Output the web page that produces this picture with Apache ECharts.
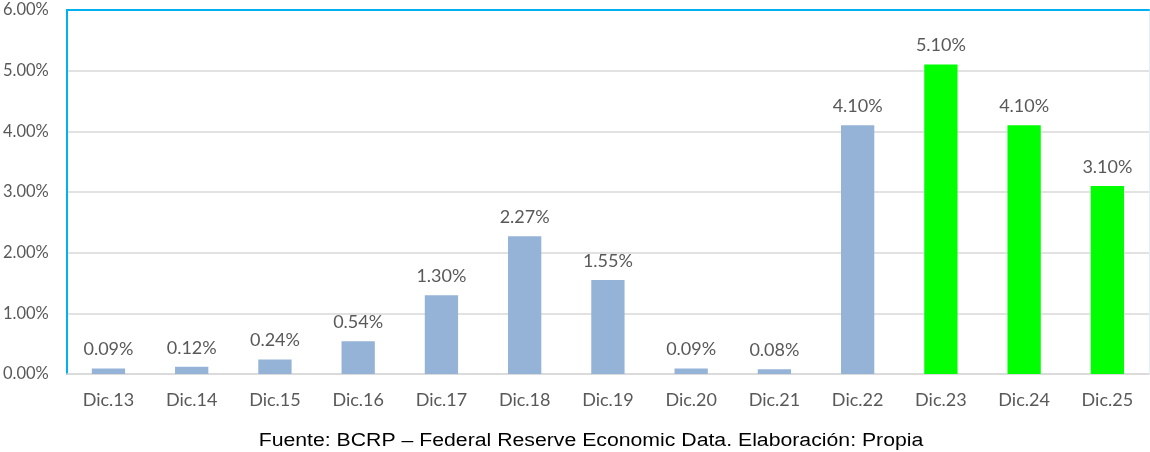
<!DOCTYPE html>
<html>
<head>
<meta charset="utf-8">
<script src="https://cdn.jsdelivr.net/npm/echarts@6/dist/echarts.min.js"></script>
<style>
html,body{margin:0;padding:0;background:#fff;}
#chart{width:1150px;height:452px;}
</style>
</head>
<body>
<div id="chart"></div>
<script>
// Tasa de referencia anual, diciembre de cada año
const categories = ['Dic.13','Dic.14','Dic.15','Dic.16','Dic.17','Dic.18','Dic.19','Dic.20','Dic.21','Dic.22','Dic.23','Dic.24','Dic.25'];
const values = [0.09, 0.12, 0.24, 0.54, 1.30, 2.27, 1.55, 0.09, 0.08, 4.10, 5.10, 4.10, 3.10];
// Los tres últimos años se resaltan en verde
const highlighted = ['Dic.23','Dic.24','Dic.25'];
const sourceNote = 'Fuente: BCRP – Federal Reserve Economic Data. Elaboración: Propia';

const labelFont = 'Lato, "Open Sans", sans-serif';
const chart = echarts.init(document.getElementById('chart'));

chart.setOption({
  animation: false,
  grid: { left: 65, right: 1, top: 10, bottom: 78, containLabel: false },
  xAxis: [
    {
      type: 'category',
      data: categories,
      axisLine: { show: true, onZero: false, lineStyle: { color: '#D9D9D9', width: 1.5 } },
      axisTick: { show: false },
      axisLabel: { color: '#595959', fontSize: 18, fontFamily: labelFont, margin: 17 }
    },
    {
      type: 'category',
      position: 'top',
      data: categories,
      axisLine: { show: true, onZero: false, lineStyle: { color: '#00B0F0', width: 2 } },
      axisTick: { show: false },
      axisLabel: { show: false }
    }
  ],
  yAxis: [
    {
      type: 'value',
      min: 0,
      max: 6,
      interval: 1,
      axisLine: { show: true, onZero: false, lineStyle: { color: '#00B0F0', width: 2 } },
      axisTick: { show: false },
      splitLine: { lineStyle: { color: '#D9D9D9', width: 1.5 } },
      axisLabel: {
        color: '#595959', fontSize: 16.5, fontFamily: labelFont, margin: 18,
        formatter: v => v.toFixed(2) + '%'
      }
    },
    {
      type: 'value',
      position: 'right',
      min: 0,
      max: 6,
      interval: 1,
      axisLine: { show: true, onZero: false, lineStyle: { color: '#DDEFF8', width: 1 } },
      axisTick: { show: false },
      splitLine: { show: false },
      axisLabel: { show: false }
    }
  ],
  series: [{
    type: 'bar',
    barWidth: '40%',
    data: values.map((v, i) => ({
      value: v,
      itemStyle: { color: highlighted.includes(categories[i]) ? '#00FF00' : '#95B3D7' }
    })),
    label: {
      show: true,
      position: 'top',
      distance: 10,
      color: '#595959',
      fontSize: 18,
      fontFamily: labelFont,
      formatter: p => p.value.toFixed(2) + '%'
    }
  }],
  graphic: [{
    type: 'text',
    x: 591,
    y: 441,
    scaleX: 1.18,
    style: {
      text: sourceNote,
      fill: '#000',
      fontSize: 18,
      fontFamily: '"Liberation Sans", Arial, sans-serif',
      align: 'center',
      verticalAlign: 'middle'
    }
  }]
});
</script>
</body>
</html>
